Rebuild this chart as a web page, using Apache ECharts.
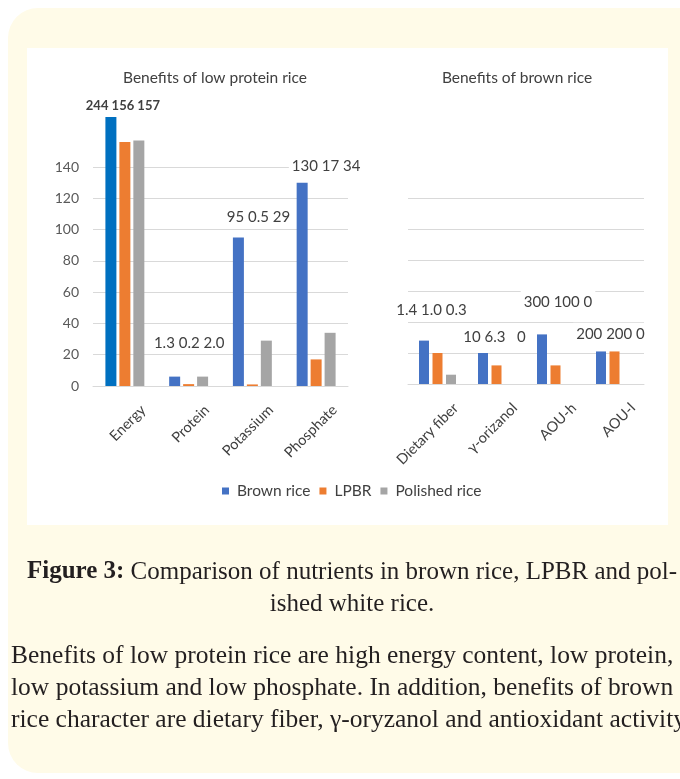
<!DOCTYPE html>
<html><head><meta charset="utf-8">
<script src="https://cdn.jsdelivr.net/npm/echarts@6/dist/echarts.min.js"></script>
<style>html,body{margin:0;padding:0;background:#fff}#c{width:680px;height:779px}</style>
</head><body><div id="c"></div>
<script>
// ---------- data ----------
const seriesNames = ['Brown rice', 'LPBR', 'Polished rice'];
const leftCategories = ['Energy', 'Protein', 'Potassium', 'Phosphate'];
const leftBrown = [172, 6, 95, 130];
const leftLPBR = [156, 1.2, 1, 17];
const leftPolished = [157, 6, 29, 34];
const leftGroupLabels = ['244 156 157', '1.3 0.2 2.0', '95 0.5 29', '130 17 34'];
const rightCategories = ['Dietary fiber', 'γ-orizanol', 'AOU-h', 'AOU-l'];
const rightBrown = [28, 20, 32, 21];
const rightLPBR = [20, 12, 12, 21];
const rightPolished = [6, 0, 0, 0];
const rightGroupLabels = ['1.4 1.0 0.3', '10 6.3   0', '300 100 0', '200 200 0'];
const leftTickMax = 140, rightTickMax = 120, tickStep = 20;
const panelTitles = ['Benefits of low protein rice', 'Benefits of brown rice'];
const captionBold = 'Figure 3:';
const captionLines = [' Comparison of nutrients in brown rice, LPBR and pol-', 'ished white rice.'];
const bodyLines = [
  'Benefits of low protein rice are high energy content, low protein,',
  'low potassium and low phosphate. In addition, benefits of brown',
  'rice character are dietary fiber, γ-oryzanol and antioxidant activity.'
];

// ---------- styles ----------
const SANS = 'Lato';
const SERIF = '"Liberation Serif"';
const colors = ['#4472c4', '#ed7d31', '#a5a5a5'];
const energyBlue = '#0070c0';
const leftLabelOffsets = [[12, -1.5], [14.5, -22.5], [20, -9.5], [24, -5.6]];
const rightLabelOffsets = [[7.5, -19.7], [11.5, -5], [16, -21.3], [9.5, -6.7]];

function groupLabel(text, off, bold) {
  return {
    show: true, position: 'top', distance: 0, formatter: text, offset: off,
    color: '#404040', fontSize: bold ? 13 : 15, fontFamily: SANS, fontWeight: bold ? 'bold' : 'normal',
    backgroundColor: '#fff', padding: [2, 3], lineHeight: bold ? 16 : 18
  };
}

function buildSeries(axisIndex, valuesList, labels, offsets, barWidth, barGap, special) {
  return valuesList.map((vals, si) => ({
    name: seriesNames[si], type: 'bar', xAxisIndex: axisIndex, yAxisIndex: axisIndex,
    barWidth: barWidth, barGap: barGap, clip: false,
    itemStyle: { color: colors[si] },
    data: vals.map((v, i) => {
      const item = { value: v };
      if (special && si === 0 && i === 0) item.itemStyle = { color: energyBlue };
      if (si === 0) item.label = groupLabel(labels[i], offsets[i], special && i === 0);
      return item;
    })
  }));
}

const axisLabelStyle = {
  rotate: 45, margin: 40, padding: [0, -26, 0, 0], interval: 0,
  color: '#404040', fontSize: 14.5, fontFamily: SANS
};

const option = {
  animation: false,
  backgroundColor: '#ffffff',
  graphic: [
    { type: 'rect', z: -10, shape: { x: 8, y: 8, width: 720, height: 765, r: 30 }, style: { fill: '#fffbe8' } },
    { type: 'rect', z: -9, shape: { x: 27, y: 48, width: 641, height: 477 }, style: { fill: '#ffffff' } },
    { type: 'text', x: 215, y: 78, style: { text: panelTitles[0], align: 'center', verticalAlign: 'middle', fontSize: 15.5, fontFamily: SANS, fill: '#404040' } },
    { type: 'text', x: 517, y: 78, style: { text: panelTitles[1], align: 'center', verticalAlign: 'middle', fontSize: 15.5, fontFamily: SANS, fill: '#404040' } },
    { type: 'text', x: 352, y: 572, style: {
        text: '{b|' + captionBold + '}' + captionLines[0], align: 'center', verticalAlign: 'middle',
        fontSize: 25, fontFamily: SERIF, fill: '#231f20',
        rich: { b: { fontSize: 25, fontFamily: SERIF, fontWeight: 'bold', fill: '#231f20' } } } },
    { type: 'text', x: 352, y: 604, style: { text: captionLines[1], align: 'center', verticalAlign: 'middle', fontSize: 25, fontFamily: SERIF, fill: '#231f20' } },
    ...bodyLines.map((t, i) => ({ type: 'text', x: 11, y: 656 + 32 * i, style: { text: t, align: 'left', verticalAlign: 'middle', fontSize: 25.5, fontFamily: SERIF, fill: '#231f20' } }))
  ],
  legend: {
    data: seriesNames, left: 217, top: 478, icon: 'rect', itemWidth: 7, itemHeight: 7, itemGap: 9,
    textStyle: { fontFamily: SANS, fontSize: 15.5, color: '#404040', padding: [0, 0, 0, 3] }
  },
  grid: [
    { left: 93, right: 332, top: 167, bottom: 393 },
    { left: 408, right: 36, top: 198, bottom: 395 }
  ],
  xAxis: [
    { type: 'category', gridIndex: 0, data: leftCategories, axisTick: { show: false },
      axisLine: { lineStyle: { color: '#d9d9d9' } }, axisLabel: axisLabelStyle },
    { type: 'category', gridIndex: 1, data: rightCategories, axisTick: { show: false },
      axisLine: { lineStyle: { color: '#d9d9d9' } }, axisLabel: axisLabelStyle }
  ],
  yAxis: [
    { type: 'value', gridIndex: 0, min: 0, max: leftTickMax, interval: tickStep,
      axisLine: { show: false }, axisTick: { show: false },
      axisLabel: { color: '#595959', fontSize: 14, fontFamily: SANS, margin: 14 },
      splitLine: { lineStyle: { color: '#d9d9d9' } } },
    { type: 'value', gridIndex: 1, min: 0, max: rightTickMax, interval: tickStep,
      axisLine: { show: false }, axisTick: { show: false }, axisLabel: { show: false },
      splitLine: { lineStyle: { color: '#d9d9d9' } } }
  ],
  series: [
    ...buildSeries(0, [leftBrown, leftLPBR, leftPolished], leftGroupLabels, leftLabelOffsets, 11, '27%', true),
    ...buildSeries(1, [rightBrown, rightLPBR, rightPolished], rightGroupLabels, rightLabelOffsets, 10, '35%', false)
  ]
};

const chart = echarts.init(document.getElementById('c'), null, { renderer: 'canvas' });
chart.setOption(option);
</script></body></html>
